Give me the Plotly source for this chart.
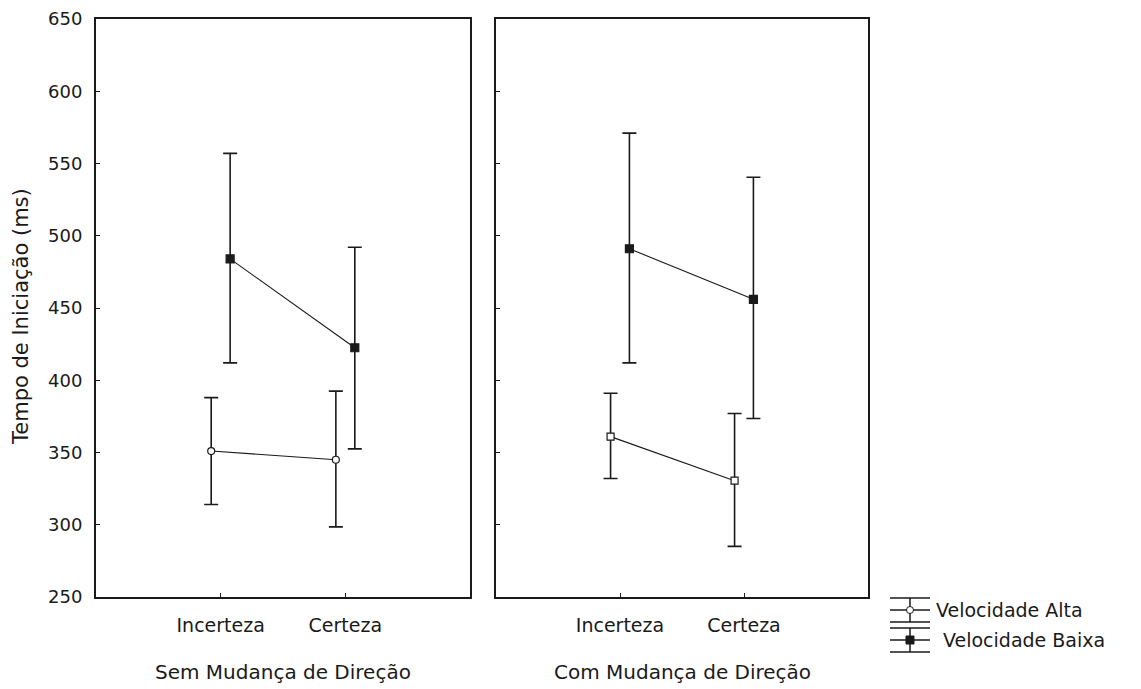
import plotly.graph_objects as go

categories = ["Incerteza", "Certeza"]
panels = ["Sem Mudança de Direção", "Com Mudança de Direção"]

# Sem Mudança de Direção
sem_alta_mean = [351, 345]
sem_alta_upper = [388, 392.5]
sem_alta_lower = [314, 298.5]
sem_baixa_mean = [484, 422.5]
sem_baixa_upper = [557, 492]
sem_baixa_lower = [412, 352.5]

# Com Mudança de Direção
com_alta_mean = [361, 330.5]
com_alta_upper = [391, 377]
com_alta_lower = [332, 285]
com_baixa_mean = [491, 456]
com_baixa_upper = [571, 540.5]
com_baixa_lower = [412, 373.5]

y_ticks = [250, 300, 350, 400, 450, 500, 550, 600, 650]
legend_labels = ["Velocidade Alta", "Velocidade Baixa"]

W, H = 1141, 689
FONT = "DejaVu Sans"
INK = "#1a1a1a"

def px_x(v):
    return v / W

def px_y(v):
    return 1 - v / H

fig = go.Figure()

cat_pos = [1, 2]
offset = 0.076

def add_series(xaxis, yaxis, mean, upper, lower, dx, symbol, fill):
    xs = [p + dx for p in cat_pos]
    fig.add_trace(go.Scatter(
        x=xs, y=mean, xaxis=xaxis, yaxis=yaxis,
        mode="lines+markers",
        line=dict(color=INK, width=1.1),
        marker=dict(symbol=symbol, size=8 if fill == INK else 7,
                    color=fill, line=dict(color=INK, width=1.2)),
        error_y=dict(type="data", symmetric=False,
                     array=[u - m for u, m in zip(upper, mean)],
                     arrayminus=[m - l for m, l in zip(mean, lower)],
                     color=INK, thickness=1.6, width=7),
        showlegend=False, hoverinfo="skip",
    ))

add_series("x", "y", sem_alta_mean, sem_alta_upper, sem_alta_lower, -offset, "circle", "white")
add_series("x", "y", sem_baixa_mean, sem_baixa_upper, sem_baixa_lower, offset, "square", INK)
add_series("x2", "y2", com_alta_mean, com_alta_upper, com_alta_lower, -offset, "square", "white")
add_series("x2", "y2", com_baixa_mean, com_baixa_upper, com_baixa_lower, offset, "square", INK)

y_dom = [px_y(597), px_y(19)]
xa_common = dict(
    range=[0, 3], tickmode="array", tickvals=cat_pos, ticktext=categories,
    ticks="inside", ticklen=4, tickcolor=INK, tickwidth=1,
    showline=True, linecolor=INK, linewidth=2, mirror=True,
    showgrid=False, zeroline=False,
    tickfont=dict(family=FONT, size=19, color=INK),
    ticklabelstandoff=10,
    fixedrange=True, automargin=False,
)
ya_common = dict(
    range=[250, 650], tickmode="array", tickvals=y_ticks,
    ticks="inside", ticklen=4, tickcolor=INK, tickwidth=1,
    showline=True, linecolor=INK, linewidth=2, mirror=True,
    showgrid=False, zeroline=False,
    tickfont=dict(family=FONT, size=18, color=INK),
    fixedrange=True, automargin=False,
)

fig.update_layout(
    width=W, height=H,
    margin=dict(l=0, r=0, t=0, b=0, pad=0, autoexpand=False),
    paper_bgcolor="white", plot_bgcolor="white",
    xaxis=dict(domain=[px_x(96), px_x(470)], anchor="y", **xa_common),
    xaxis2=dict(domain=[px_x(496), px_x(868)], anchor="y2", **xa_common),
    yaxis=dict(domain=y_dom, anchor="x", ticklabelstandoff=8, **ya_common),
    yaxis2=dict(domain=y_dom, anchor="x2", showticklabels=False, **ya_common),
    showlegend=False,
)

annotations = [
    dict(text=panels[0], x=px_x(283), y=px_y(672), xref="paper", yref="paper",
         showarrow=False, xanchor="center", yanchor="middle",
         font=dict(family=FONT, size=20, color=INK)),
    dict(text=panels[1], x=px_x(682), y=px_y(672), xref="paper", yref="paper",
         showarrow=False, xanchor="center", yanchor="middle",
         font=dict(family=FONT, size=20, color=INK)),
    dict(text="Tempo de Iniciação (ms)", x=px_x(21), y=px_y(317), xref="paper", yref="paper",
         showarrow=False, xanchor="center", yanchor="middle", textangle=-90,
         font=dict(family=FONT, size=21, color=INK)),
]

# Custom legend glyphs (error-bar style)
shapes = []
rows = [(610, "circle", "white", 934), (640, "square", INK, 941)]
for (cy, sym, fill, tx), label in zip(rows, legend_labels):
    for dy in (-12, 0, 12):
        shapes.append(dict(type="line", xref="paper", yref="paper",
                           x0=px_x(890), x1=px_x(930), y0=px_y(cy + dy), y1=px_y(cy + dy),
                           line=dict(color=INK, width=1.5)))
    shapes.append(dict(type="line", xref="paper", yref="paper",
                       x0=px_x(910), x1=px_x(910), y0=px_y(cy - 12), y1=px_y(cy + 12),
                       line=dict(color=INK, width=1.5)))
    r = 3.5 if sym == "circle" else 4
    shapes.append(dict(type="circle" if sym == "circle" else "rect",
                       xref="paper", yref="paper",
                       x0=px_x(910 - r), x1=px_x(910 + r), y0=px_y(cy - r), y1=px_y(cy + r),
                       fillcolor=fill, line=dict(color=INK, width=1)))
    annotations.append(dict(text=label, x=px_x(tx), y=px_y(cy), xref="paper", yref="paper",
                            showarrow=False, xanchor="left", yanchor="middle",
                            font=dict(family=FONT, size=19, color=INK)))

fig.update_layout(annotations=annotations, shapes=shapes)

fig.write_html("out.html")
